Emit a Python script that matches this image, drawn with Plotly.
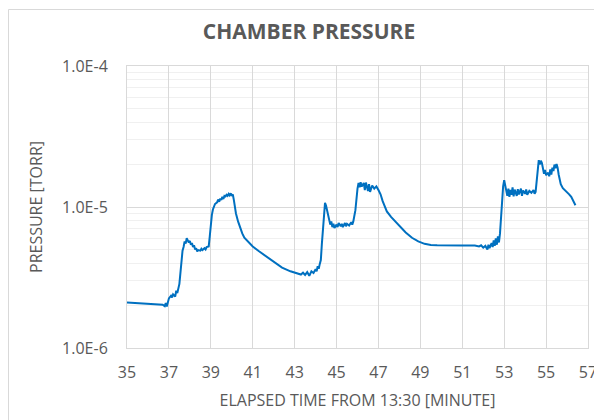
import plotly.graph_objects as go

# Elapsed time from 13:30 [minute]
minutes = [
    35.0, 35.3, 35.6, 35.9, 36.2, 36.5, 36.6, 36.7, 36.8, 36.85, 36.9, 36.95,
    37.0, 37.1, 37.15, 37.2, 37.3, 37.35, 37.4, 37.5, 37.55, 37.6, 37.65, 37.7,
    37.75, 37.8, 37.85, 37.9, 37.95, 38.0, 38.05, 38.1, 38.15, 38.2, 38.25, 38.3,
    38.35, 38.4, 38.5, 38.55, 38.6, 38.7, 38.75, 38.8, 38.9, 38.95, 39.0, 39.05,
    39.1, 39.15, 39.2, 39.3, 39.35, 39.4, 39.45, 39.5, 39.55, 39.6, 39.65, 39.7,
    39.75, 39.8, 39.85, 39.9, 39.95, 40.0, 40.05, 40.1, 40.15, 40.2, 40.3, 40.4,
    40.5, 40.6, 40.8, 41.0, 41.3, 41.6, 42.0, 42.4, 42.8, 43.0, 43.2, 43.3,
    43.4, 43.5, 43.6, 43.7, 43.8, 43.9, 44.0, 44.05, 44.1, 44.15, 44.2, 44.25,
    44.3, 44.35, 44.4, 44.45, 44.5, 44.55, 44.6, 44.65, 44.7, 44.75, 44.8, 44.85,
    44.9, 45.0, 45.05, 45.1, 45.2, 45.25, 45.3, 45.4, 45.45, 45.5, 45.6, 45.7,
    45.75, 45.8, 45.9, 46.0, 46.05, 46.1, 46.15, 46.2, 46.3, 46.35, 46.4, 46.5,
    46.55, 46.6, 46.7, 46.8, 46.9, 47.0, 47.1, 47.2, 47.3, 47.4, 47.6, 47.8,
    48.0, 48.3, 48.6, 48.9, 49.2, 49.5, 49.8, 50.2, 51.0, 51.6, 51.8, 51.9,
    52.0, 52.1, 52.2, 52.25, 52.3, 52.4, 52.45, 52.5, 52.55, 52.6, 52.65, 52.7,
    52.75, 52.8, 52.85, 52.9, 52.95, 53.0, 53.05, 53.1, 53.15, 53.2, 53.25, 53.3,
    53.35, 53.4, 53.45, 53.5, 53.6, 53.65, 53.7, 53.8, 53.85, 53.9, 54.0, 54.05,
    54.1, 54.2, 54.3, 54.4, 54.45, 54.5, 54.55, 54.6, 54.65, 54.7, 54.75, 54.8,
    54.85, 54.9, 54.95, 55.0, 55.1, 55.15, 55.2, 55.25, 55.3, 55.35, 55.4, 55.45,
    55.5, 55.55, 55.6, 55.7, 55.8, 55.9, 56.0, 56.1, 56.2, 56.3, 56.35, 56.4,
]

# Chamber pressure [Torr], in units of 1e-6 Torr
pressure_e6 = [
    2.10, 2.09, 2.08, 2.08, 2.07, 2.06, 2.05, 2.03, 1.98, 2.08, 1.97, 2.15,
    2.25, 2.35, 2.28, 2.40, 2.32, 2.55, 2.45, 2.85, 3.4, 4.2, 4.9, 5.2,
    5.7, 5.5, 6.0, 5.8, 5.6, 5.75, 5.4, 5.55, 5.2, 5.35, 5.0, 5.1,
    4.85, 4.95, 4.9, 5.05, 4.95, 5.1, 5.0, 5.2, 5.25, 6.2, 7.6, 8.8,
    9.6, 10.2, 10.5, 10.8, 11.3, 10.9, 11.5, 11.2, 11.8, 11.4, 12.0, 11.9,
    12.2, 12.0, 12.4, 12.1, 12.5, 12.0, 12.3, 11.2, 10.0, 9.0, 7.9, 7.1,
    6.5, 6.05, 5.6, 5.25, 4.85, 4.5, 4.1, 3.72, 3.5, 3.42, 3.38, 3.32,
    3.42, 3.3, 3.45, 3.25, 3.5, 3.4, 3.62, 3.5, 3.8, 3.65, 3.95, 4.2,
    5.5, 7.0, 8.8, 10.7, 10.2, 9.3, 8.6, 8.2, 7.5, 7.9, 7.2, 7.6,
    7.1, 7.5, 7.2, 7.7, 7.3, 7.6, 7.2, 7.7, 7.3, 7.6, 7.4, 7.8,
    7.5, 7.9, 9.5, 13.5, 14.8, 13.8, 15.0, 14.0, 14.8, 13.2, 14.9, 13.0,
    14.5, 12.8, 14.2, 13.5, 14.0, 13.2, 12.3, 11.0, 10.0, 9.3, 8.5, 7.9,
    7.3, 6.6, 6.05, 5.7, 5.48, 5.38, 5.35, 5.33, 5.33, 5.33, 5.25, 5.35,
    5.15, 5.3, 5.0, 5.4, 5.1, 5.55, 5.2, 5.8, 5.3, 6.0, 5.4, 6.2,
    5.6, 6.5, 8.5, 11.5, 14.0, 15.5, 14.2, 13.0, 12.0, 13.5, 11.8, 13.2,
    12.2, 13.8, 11.9, 13.3, 12.0, 13.4, 12.3, 13.5, 12.0, 13.1, 12.4, 13.3,
    12.2, 13.0, 12.6, 13.2, 12.4, 12.8, 16.0, 19.5, 21.5, 20.0, 21.3, 20.5,
    18.0, 17.2, 18.3, 16.8, 17.5, 16.5, 18.5, 17.0, 19.0, 18.0, 20.0, 18.8,
    20.2, 19.0, 17.0, 14.5, 13.6, 13.2, 12.8, 12.3, 11.8, 11.1, 10.7, 10.3,
]

x_ticks = [35, 37, 39, 41, 43, 45, 47, 49, 51, 53, 55, 57]
y_ticks = [1e-6, 1e-5, 1e-4]
y_tick_labels = ["1.0E-6", "1.0E-5", "1.0E-4"]

pressure = [v * 1e-6 for v in pressure_e6]
minor_vals = [m * d for d in (1e-6, 1e-5) for m in range(2, 10)]

GRAY = "#595959"
FONT = "Open Sans"

# The page body adds an 8 px offset, so the figure is 8 px smaller each way.
W, H = 594, 412
ML, MR, MT, MB = 119, 14, 58, 72
PW, PH = W - ML - MR, H - MT - MB

fig = go.Figure()
fig.add_trace(go.Scatter(
    x=minutes, y=pressure, mode="lines",
    line=dict(color="#0070C0", width=2),
    showlegend=False,
))

fig.update_layout(
    width=W, height=H,
    margin=dict(l=ML, r=MR, t=MT, b=MB, autoexpand=False),
    paper_bgcolor="white", plot_bgcolor="white",
    font=dict(family=FONT, color=GRAY, size=16),
    title=dict(
        text="<b>CHAMBER PRESSURE</b>",
        font=dict(family=FONT, size=21, color=GRAY),
        xref="container", x=(309 - 8) / W, xanchor="center",
        yref="container", y=1 - (32 - 8) / H, yanchor="middle",
    ),
    xaxis=dict(
        range=[35, 57], tickmode="array", tickvals=x_ticks,
        showgrid=True, gridcolor="#d9d9d9", gridwidth=1,
        showline=True, mirror=True, linecolor="#d9d9d9", linewidth=1,
        zeroline=False, ticks="", ticklabelstandoff=10,
        tickfont=dict(size=16, color=GRAY),
        title=dict(text="ELAPSED TIME FROM 13:30 [MINUTE]",
                   font=dict(size=16, color=GRAY), standoff=12),
    ),
    yaxis=dict(
        type="log", range=[-6, -4], tickmode="array",
        tickvals=y_ticks, ticktext=y_tick_labels,
        showgrid=True, gridcolor="#d9d9d9", gridwidth=1,
        showline=True, mirror=True, linecolor="#d9d9d9", linewidth=1,
        zeroline=False, ticks="", ticklabelstandoff=15,
        tickfont=dict(size=16, color=GRAY),
        minor=dict(tickmode="array", tickvals=minor_vals, showgrid=True,
                   gridcolor="#f0f0f0", gridwidth=1, ticks=""),
        title=dict(text="PRESSURE [TORR]",
                   font=dict(size=16, color=GRAY), standoff=15),
    ),
    shapes=[dict(
        type="rect", xref="paper", yref="paper",
        x0=(0.5 - ML) / PW, x1=1.3, y0=-0.6, y1=(MT + PH - 1.5) / PH,
        line=dict(color="#d9d9d9", width=1), fillcolor="rgba(0,0,0,0)",
        layer="below",
    )],
)

fig.write_html("out.html")
